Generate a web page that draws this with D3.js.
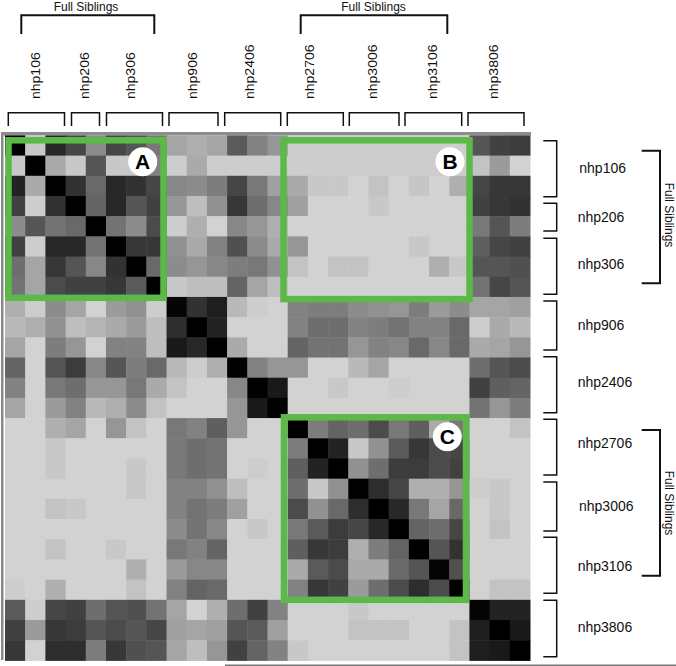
<!DOCTYPE html>
<html>
<head>
<meta charset="utf-8">
<script src="https://d3js.org/d3.v7.min.js"></script>
<style>
  html, body { margin: 0; padding: 0; background: #fff; }
  svg { display: block; }
  text { font-family: "Liberation Sans", Arial, sans-serif; fill: #111; }
</style>
</head>
<body>
<div id="chart"></div>
<script>
// 26 samples, 9 animals (0 = identical, 255 = far apart)
const animals = ["nhp106", "nhp206", "nhp306", "nhp906", "nhp2406", "nhp2706", "nhp3006", "nhp3106", "nhp3806"];
const sampleCounts = [3, 2, 3, 3, 3, 3, 3, 3, 3];

const distances = [
  [0,200,40,70,140,70,85,120,165,175,165,90,130,150,205,205,205,205,205,205,205,205,205,85,65,60],
  [200,0,170,200,85,200,200,130,205,170,205,205,205,205,205,205,205,205,205,205,205,205,205,195,155,210],
  [35,170,0,50,105,40,50,70,135,140,125,70,120,160,170,200,200,210,195,210,198,210,175,70,55,55],
  [65,205,50,0,100,40,85,65,150,190,145,55,110,135,160,210,210,210,200,210,210,210,210,65,55,50],
  [140,85,115,105,0,115,140,75,205,175,210,135,150,175,210,210,210,210,210,210,210,210,210,120,85,125],
  [65,205,40,40,115,0,55,55,145,170,130,80,140,170,150,210,210,210,210,210,200,210,210,95,70,65],
  [110,165,55,85,135,50,0,105,140,150,135,125,120,145,195,210,195,195,210,210,210,175,200,85,85,80],
  [115,165,75,65,65,55,90,0,200,190,190,100,165,190,210,210,210,210,210,210,210,210,210,115,70,85],
  [175,205,140,165,210,155,145,205,5,50,30,185,205,210,130,125,125,140,145,150,125,155,140,165,165,160],
  [185,175,145,190,180,170,155,190,45,0,35,210,210,210,130,110,110,130,125,115,130,130,105,205,170,185],
  [165,210,125,150,210,130,130,190,25,40,0,170,210,210,100,115,115,150,130,135,105,135,105,170,165,150],
  [100,210,85,60,135,85,125,105,185,205,175,0,130,150,150,210,210,185,165,210,210,210,210,110,85,75],
  [130,210,120,110,150,150,120,170,195,210,210,135,0,25,210,210,200,210,210,205,210,210,210,65,95,100],
  [165,210,155,130,185,175,140,195,210,210,210,150,25,0,210,210,210,210,210,210,210,210,210,115,150,125],
  [210,210,175,165,210,150,195,210,120,130,95,150,210,210,0,125,100,110,75,120,95,170,120,210,210,195],
  [210,210,200,210,210,210,210,210,120,110,115,210,210,210,125,0,35,200,145,90,55,75,70,210,210,210],
  [210,210,200,210,210,210,200,210,120,110,115,210,205,210,95,35,0,145,110,60,60,75,65,210,210,210],
  [210,210,210,210,210,210,200,210,130,130,145,190,210,210,110,200,145,0,45,70,175,175,150,205,200,210],
  [210,210,195,200,210,210,210,210,130,115,125,160,210,210,75,145,105,45,0,40,120,165,105,210,200,210],
  [210,210,210,210,210,210,210,210,140,115,135,210,200,210,120,90,60,70,40,0,100,110,70,210,195,210],
  [210,210,195,210,210,200,210,210,120,130,100,210,210,210,95,55,60,175,125,100,0,85,50,210,210,210],
  [210,210,210,210,210,210,175,210,155,135,135,210,210,210,170,90,75,170,170,105,85,5,80,210,210,210],
  [205,210,175,210,210,210,195,210,130,100,105,210,210,210,130,55,65,155,110,75,45,75,0,210,195,195],
  [90,205,70,65,110,85,80,115,165,210,175,110,65,130,210,210,210,200,210,210,210,210,210,5,35,35],
  [65,155,55,60,85,75,85,70,160,165,160,85,90,160,210,210,210,195,195,195,210,210,195,30,0,25],
  [55,210,45,45,125,55,80,85,165,190,150,65,100,130,200,210,210,210,210,210,210,210,195,30,25,0]
];

const highlightBlocks = ["A", "B", "C"];

const width = 676, height = 666;
const svg = d3.select("#chart").append("svg").attr("width", width).attr("height", height);

const sampleIds = d3.range(distances.length);
const x = d3.scaleBand().domain(sampleIds).range([5, 530]);
const y = d3.scaleBand().domain(sampleIds).range([135.4, 660.4]);
const grey = d3.scaleLinear().domain([0, 255]).range(["#000", "#fff"]);

// frame of the matrix
svg.append("rect").attr("x", 1).attr("y", 132).attr("width", 2.5).attr("height", 528).attr("fill", "#888");
svg.append("rect").attr("x", 1).attr("y", 132).attr("width", 530).attr("height", 3.5).attr("fill", "#8c8c8c");
svg.append("rect").attr("x", 225).attr("y", 664.5).attr("width", 451).attr("height", 1.5).attr("fill", "#777");

// heat map
svg.append("g").selectAll("g")
  .data(distances)
  .join("g")
  .selectAll("rect")
  .data((row, i) => row.map((value, j) => ({ i, j, value })))
  .join("rect")
  .attr("x", d => x(d.j))
  .attr("y", d => y(d.i))
  .attr("width", x.bandwidth() + 0.5)
  .attr("height", y.bandwidth() + 0.5)
  .attr("fill", d => grey(d.value));

// green boxes, tuned by eye against the picture
const boxFrames = {
  A: [8.5, 140.3, 155, 157.5],
  B: [283.5, 140.3, 186, 158.8],
  C: [284, 417.3, 182, 182.5]
};
svg.append("g").selectAll("rect")
  .data(highlightBlocks)
  .join("rect")
  .attr("x", d => boxFrames[d][0])
  .attr("y", d => boxFrames[d][1])
  .attr("width", d => boxFrames[d][2])
  .attr("height", d => boxFrames[d][3])
  .attr("fill", "none")
  .attr("stroke", "#5cb947")
  .attr("stroke-width", 6.5);

const badgeCenters = { A: [142.7, 161.7], B: [450, 161.7], C: [447.3, 436.7] };
const badges = svg.append("g").selectAll("g")
  .data(highlightBlocks)
  .join("g")
  .attr("transform", d => `translate(${badgeCenters[d]})`);
badges.append("circle").attr("r", 14.5).attr("fill", "#fff");
badges.append("text")
  .attr("text-anchor", "middle")
  .attr("y", 7.5)
  .style("font-size", "21px")
  .style("font-weight", "bold")
  .style("fill", "#000")
  .text(d => d);

// brackets
function bracketTop(g, x0, x1, yTop, yEnd, sw) {
  g.append("path")
    .attr("d", `M${x0},${yEnd}V${yTop}H${x1}V${yEnd}`)
    .attr("fill", "none").attr("stroke", "#111").attr("stroke-width", sw);
}
function bracketRight(g, x0, x1, y0, y1, sw) {
  g.append("path")
    .attr("d", `M${x0},${y0}H${x1}V${y1}H${x0}`)
    .attr("fill", "none").attr("stroke", "#111").attr("stroke-width", sw);
}

const topSpans = [[8.3, 64.5], [71.5, 99.5], [106.5, 162.5], [169, 218], [224.7, 280.7], [287.3, 343.3], [349.3, 399], [405, 461.7], [468, 524]];
const topLabelX = [40.4, 88.7, 135.3, 196.7, 254.3, 313.7, 377, 437, 497.7];
const rightSpans = [[140.7, 196.7], [203.3, 231], [238.3, 294.3], [301, 350], [356.7, 412.7], [419.3, 475], [482, 531], [537.3, 593.3], [600.3, 656.7]];
const rightLabelPos = [[579.3, 172.7], [577.7, 222], [577.7, 269], [577.7, 330], [577.7, 387.3], [577.7, 448.3], [579, 511], [577.7, 570.7], [577.7, 631.7]];

const annotations = svg.append("g");
animals.forEach((name, i) => {
  bracketTop(annotations, topSpans[i][0], topSpans[i][1], 112.7, 126, 1.5);
  bracketRight(annotations, 543.3, 556.7, rightSpans[i][0], rightSpans[i][1], 1.5);
  annotations.append("text")
    .attr("transform", `translate(${topLabelX[i]},99) rotate(-90) scale(1,0.85)`)
    .style("font-size", "14px")
    .text(name);
  annotations.append("text")
    .attr("x", rightLabelPos[i][0]).attr("y", rightLabelPos[i][1])
    .style("font-size", "14px")
    .text(name);
});

const topSibling = [[21.3, 154.3, 86], [300.7, 447.3, 373.5]];
topSibling.forEach(s => {
  bracketTop(annotations, s[0], s[1], 15.3, 34, 2);
  annotations.append("text")
    .attr("x", s[2]).attr("y", 11)
    .attr("text-anchor", "middle")
    .style("font-size", "12px")
    .text("Full Siblings");
});
const rightSibling = [[150.7, 283.3, 215], [430, 575.7, 503]];
rightSibling.forEach(s => {
  bracketRight(annotations, 641.7, 660, s[0], s[1], 2);
  annotations.append("text")
    .attr("transform", `translate(664.5,${s[2]}) rotate(90)`)
    .attr("text-anchor", "middle")
    .style("font-size", "12px")
    .text("Full Siblings");
});
</script>
</body>
</html>
